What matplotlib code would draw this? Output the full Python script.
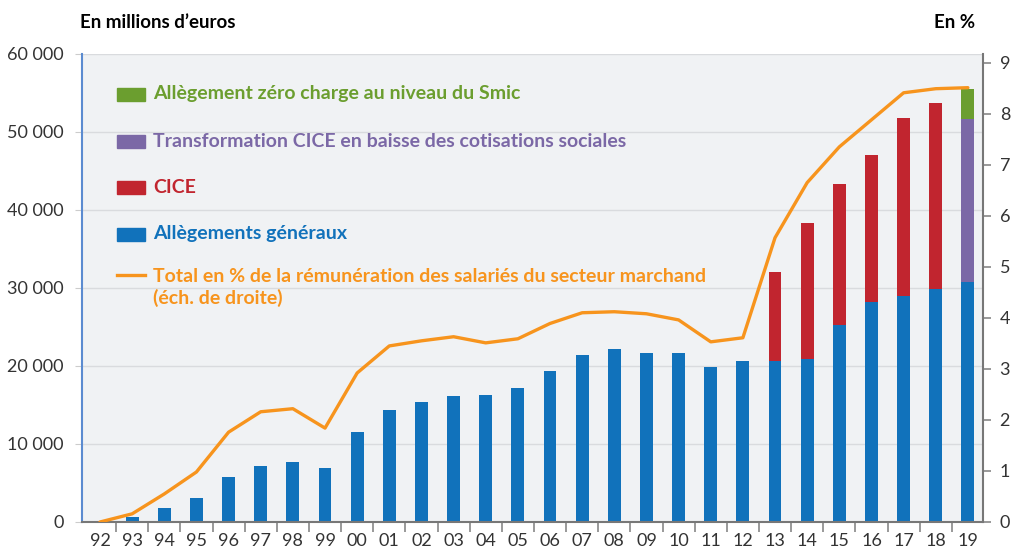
import matplotlib.pyplot as plt
from matplotlib.patches import Rectangle
from matplotlib.lines import Line2D
import numpy as np

plt.rcParams['font.family'] = ['Lato', 'DejaVu Sans']

years = ['92', '93', '94', '95', '96', '97', '98', '99', '00', '01', '02', '03', '04', '05',
         '06', '07', '08', '09', '10', '11', '12', '13', '14', '15', '16', '17', '18', '19']

# millions d'euros
allegements = [0, 600, 1800, 3070, 5770, 7180, 7700, 6900, 11540, 14360, 15400, 16150, 16300, 17200,
               19400, 21400, 22200, 21700, 21700, 19900, 20700, 20700, 20900, 25250, 28200, 29000, 29900, 30800]
cice = [0, 0, 0, 0, 0, 0, 0, 0, 0, 0, 0, 0, 0, 0,
        0, 0, 0, 0, 0, 0, 0, 11350, 17400, 18050, 18800, 22800, 23800, 0]
transfo_cice = [0] * 27 + [20850]
zero_charge = [0] * 27 + [3850]

# % de la rémunération des salariés du secteur marchand
total_pct = [0.0, 0.16, 0.55, 0.98, 1.76, 2.16, 2.22, 1.84, 2.92, 3.45, 3.55, 3.63, 3.51, 3.59,
             3.89, 4.10, 4.12, 4.08, 3.96, 3.53, 3.61, 5.57, 6.65, 7.35, 7.88, 8.41, 8.49, 8.51]

BLUE = '#1172bb'
RED = '#c1252f'
PURPLE = '#7b68a6'
GREEN = '#6b9e2f'
ORANGE = '#f7941d'
TXT = '#333333'

fig = plt.figure(figsize=(10.12, 5.49), dpi=100)
ax = fig.add_axes([82 / 1012, 27 / 549, 901 / 1012, 468 / 549])
ax.set_facecolor('#f0f2f4')

x = np.arange(len(years))
w = 0.4
b1 = np.array(allegements)
b2 = b1 + np.array(cice)
b3 = b2 + np.array(transfo_cice)
ax.bar(x, allegements, w, color=BLUE, zorder=2)
ax.bar(x, cice, w, bottom=b1, color=RED, zorder=2)
ax.bar(x, transfo_cice, w, bottom=b2, color=PURPLE, zorder=2)
ax.bar(x, zero_charge, w, bottom=b3, color=GREEN, zorder=2)

ax.set_xlim(-0.56, 27.47)
ax.set_ylim(0, 60000)
ax.set_yticks(range(0, 60001, 10000))
ax.set_yticklabels(['0', '10 000', '20 000', '30 000', '40 000', '50 000', '60 000'])
ax.grid(axis='y', color='#d9dbde', linewidth=1, zorder=0)
ax.set_axisbelow(True)

ax.set_xticks(x)
ax.set_xticklabels(years)
ax.set_xticks(x[:-1] + 0.5, minor=True)
ax.tick_params(axis='x', which='major', length=0, pad=8, labelsize=13, labelcolor=TXT)
ax.tick_params(axis='x', which='minor', length=7, width=1.2, color='#888888')
ax.tick_params(axis='y', length=5, color='#cccccc', labelsize=13, labelcolor=TXT, pad=8)

for s in ['top', 'right']:
    ax.spines[s].set_visible(False)
ax.spines['left'].set_color('#5b8bd0')
ax.spines['left'].set_linewidth(1.5)
ax.spines['bottom'].set_color('#777777')
ax.spines['bottom'].set_linewidth(1.5)

ax2 = ax.twinx()
ax2.plot(x, total_pct, color=ORANGE, linewidth=2.4, zorder=3, solid_capstyle='round')
ax2.set_ylim(0, 9.17)
ax2.set_yticks(range(0, 10))
ax2.tick_params(axis='y', length=6, width=1.2, color='#888888', labelsize=13, labelcolor=TXT, pad=6)
for s in ['top', 'left', 'bottom']:
    ax2.spines[s].set_visible(False)
ax2.spines['right'].set_color('#777777')
ax2.spines['right'].set_linewidth(1.5)

fig.text(80 / 1012, 1 - 22 / 549, 'En millions d\u2019euros', fontsize=13.5, fontweight='bold',
         color='black', va='center', ha='left')
fig.text(975 / 1012, 1 - 22 / 549, 'En %', fontsize=13.5, fontweight='bold',
         color='black', va='center', ha='right')

# legend
entries = [
    ('Allègement zéro charge au niveau du Smic', GREEN, 94),
    ('Transformation CICE en baisse des cotisations sociales', PURPLE, 141),
    ('CICE', RED, 187),
    ('Allègements généraux', BLUE, 234),
]
for label, col, yp in entries:
    fig.patches.append(Rectangle((117 / 1012, 1 - (yp + 7) / 549), 28 / 1012, 13 / 549,
                                 transform=fig.transFigure, color=col, figure=fig))
    fig.text(153 / 1012, 1 - yp / 549, label, fontsize=14, fontweight='bold', color=col,
             va='center', ha='left')
fig.lines.append(Line2D([117 / 1012, 145 / 1012], [1 - 275 / 549, 1 - 275 / 549],
                        transform=fig.transFigure, color=ORANGE, linewidth=2.4))
fig.text(153 / 1012, 1 - 268 / 549,
         'Total en % de la rémunération des salariés du secteur marchand\n(éch. de droite)',
         fontsize=14, fontweight='bold', color=ORANGE, va='top', ha='left',
         linespacing=1.25, transform=fig.transFigure)

fig.savefig('out.png', dpi=100)
